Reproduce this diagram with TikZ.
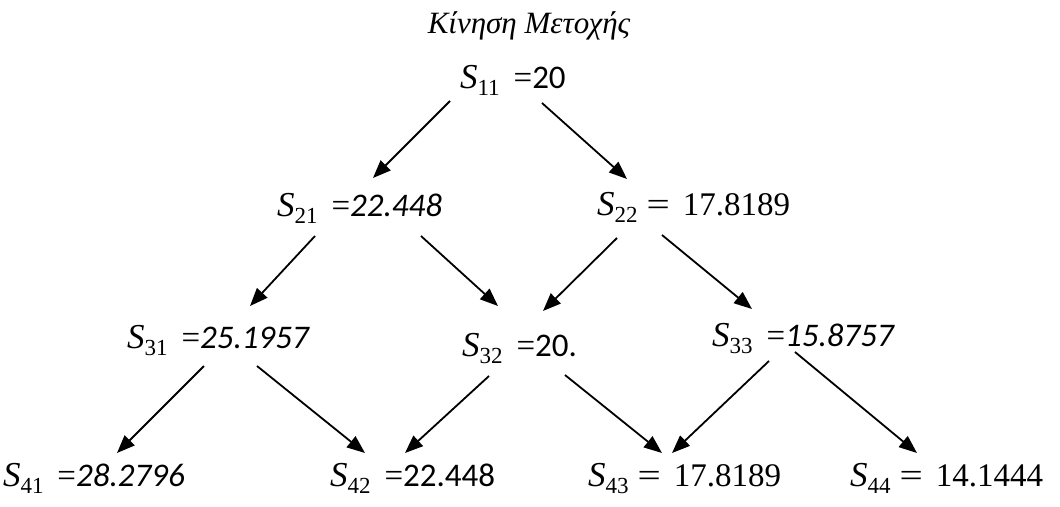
\documentclass[tikz,border=0pt]{standalone}
\usepackage{fontspec}
\setmainfont{Carlito}
\newfontfamily\mathfnt{Liberation Serif}
\newfontfamily\titlefnt{Liberation Serif}
\usetikzlibrary{arrows.meta,calc}

% S with a two digit index, as the stock tree labels print it
\newcommand{\Sv}[2][14pt]{{\mathfnt\fontsize{35}{40}\selectfont\itshape S}\raisebox{-7pt}{\fontsize{23}{23}\selectfont\mathfnt #2}\hspace{#1}}
% value set in the serif font, with the wide gap after the sign
\newcommand{\Mv}[1]{\scalebox{1.25}[1]{\mathfnt=}\hspace{13pt}{\mathfnt #1}}

\begin{document}
\begin{tikzpicture}[
    x=1pt, y=-1pt,
    every node/.style={inner sep=0pt, outer sep=0pt},
    val/.style={anchor=base west, font=\fontsize{33}{38}\selectfont},
    ttl/.style={anchor=base, font=\fontsize{31}{36}\selectfont\titlefnt\itshape},
    arr/.style={-{Triangle[length=18pt, width=14pt]}, line width=1.8pt}
]
\useasboundingbox (0,0) rectangle (1060,506);
\node[ttl] (title) at (529,33) {Κίνηση Μετοχής};
\node[val] (s11) at (460,88) {\Sv{11}{\mathfnt=}20};
\node[val] (s21) at (277,216) {\Sv{21}{\mathfnt=}\textit{22.448}};
\node[val] (s22) at (597,215) {\Sv[9pt]{22}\Mv{17.8189}};
\node[val] (s31) at (127,348) {\Sv{31}{\mathfnt=}\textit{25.1957}};
\node[val] (s32) at (462,356) {\Sv{32}{\mathfnt=}20.};
\node[val] (s33) at (712,346) {\Sv{33}{\mathfnt=}\textit{15.8757}};
\node[val] (s41) at (3,486) {\Sv{41}{\mathfnt=}\textit{28.2796}};
\node[val] (s42) at (330,486) {\Sv{42}{\mathfnt=}22.448};
\node[val] (s43) at (588,486) {\Sv[9pt]{43}\Mv{17.8189}};
\node[val] (s44) at (850,486) {\Sv[9pt]{44}\Mv{14.1444}};
% first step
\draw[arr] ($(s11.base west)+(-10,13)$) -- ($(s21.base west)+(96,-38)$);
\draw[arr] ($(s11.base west)+(82,15)$) -- ($(s22.base west)+(30,-36)$);
% second step
\draw[arr] ($(s21.base west)+(38,20)$) -- ($(s31.base west)+(123,-42)$);
\draw[arr] ($(s21.base west)+(144,20)$) -- ($(s32.base west)+(36,-50)$);
\draw[arr] ($(s22.base west)+(20,23)$) -- ($(s32.base west)+(81,-45)$);
\draw[arr] ($(s22.base west)+(65,20)$) -- ($(s33.base west)+(40,-37)$);
% third step
\draw[arr] ($(s31.base west)+(77,18)$) -- ($(s41.base west)+(114,-33)$);
\draw[arr] ($(s31.base west)+(130,18)$) -- ($(s42.base west)+(35,-33)$);
\draw[arr] ($(s32.base west)+(27,20)$) -- ($(s42.base west)+(75,-33)$);
\draw[arr] ($(s32.base west)+(103,19)$) -- ($(s43.base west)+(74,-33)$);
\draw[arr] ($(s33.base west)+(57,15)$) -- ($(s43.base west)+(84,-33)$);
\draw[arr] ($(s33.base west)+(83,6)$) -- ($(s44.base west)+(67,-33)$);
\end{tikzpicture}
\end{document}
